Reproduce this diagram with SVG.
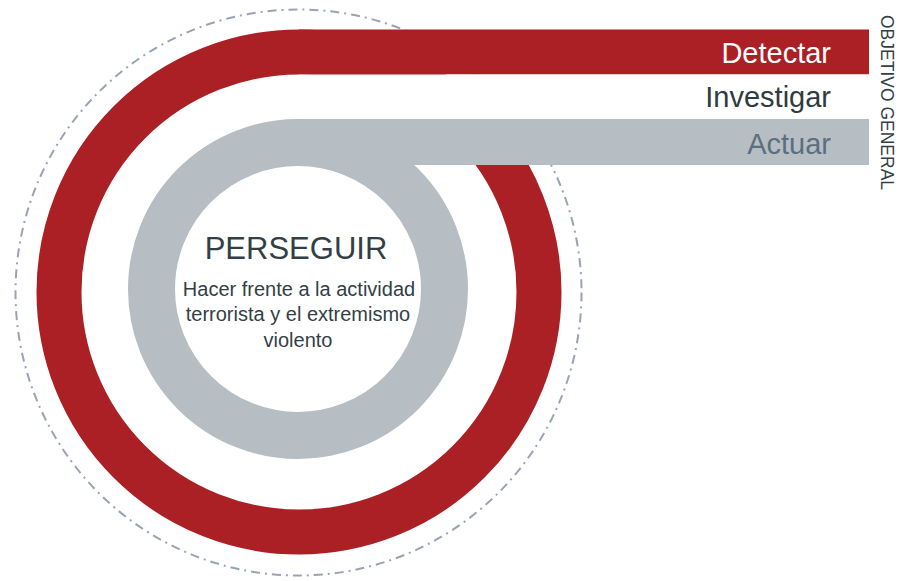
<svg xmlns="http://www.w3.org/2000/svg" width="904" height="581" viewBox="0 0 904 581">
  <style>
    .t { font-family: "Liberation Sans", Arial, sans-serif; }
    .band { font-size: 29px; text-anchor: end; }
    .sub { font-size: 20px; fill: #333f45; text-anchor: middle; }
  </style>
  <rect width="904" height="581" fill="#ffffff"/>
  <g id="outline">
    <circle cx="298.5" cy="292.5" r="283" fill="none" stroke="#9aa3b5" stroke-width="2" stroke-dasharray="9 5 2 5"/>
  </g>
  <g id="ring-red">
    <circle cx="299" cy="292" r="240" fill="none" stroke="#ab2025" stroke-width="45"/>
  </g>
  <g id="ring-gray">
    <circle cx="298" cy="289" r="146.5" fill="none" stroke="#b6bdc3" stroke-width="47"/>
  </g>
  <g id="detectar">
    <rect x="299" y="29.5" width="570" height="45" fill="#ab2025"/>
    <text class="t band" x="831" y="62.5" fill="#ffffff">Detectar</text>
  </g>
  <g id="investigar">
    <rect x="299" y="74.5" width="570" height="44.5" fill="#ffffff"/>
    <text class="t band" x="831" y="107" fill="#2f3b40">Investigar</text>
  </g>
  <g id="actuar">
    <rect x="298" y="119" width="571" height="46" fill="#b6bdc3"/>
    <text class="t band" x="831" y="154" fill="#5b6f80">Actuar</text>
  </g>
  <g id="objetivo">
    <text class="t" transform="translate(881,15) rotate(90)" font-size="17.5" fill="#333f45">OBJETIVO GENERAL</text>
  </g>
  <g id="center">
    <text class="t" x="296" y="259" font-size="31" fill="#333f45" text-anchor="middle">PERSEGUIR</text>
    <text class="t sub" x="299" y="296">Hacer frente a la actividad</text>
    <text class="t sub" x="298" y="321">terrorista y el extremismo</text>
    <text class="t sub" x="298" y="347">violento</text>
  </g>
</svg>
